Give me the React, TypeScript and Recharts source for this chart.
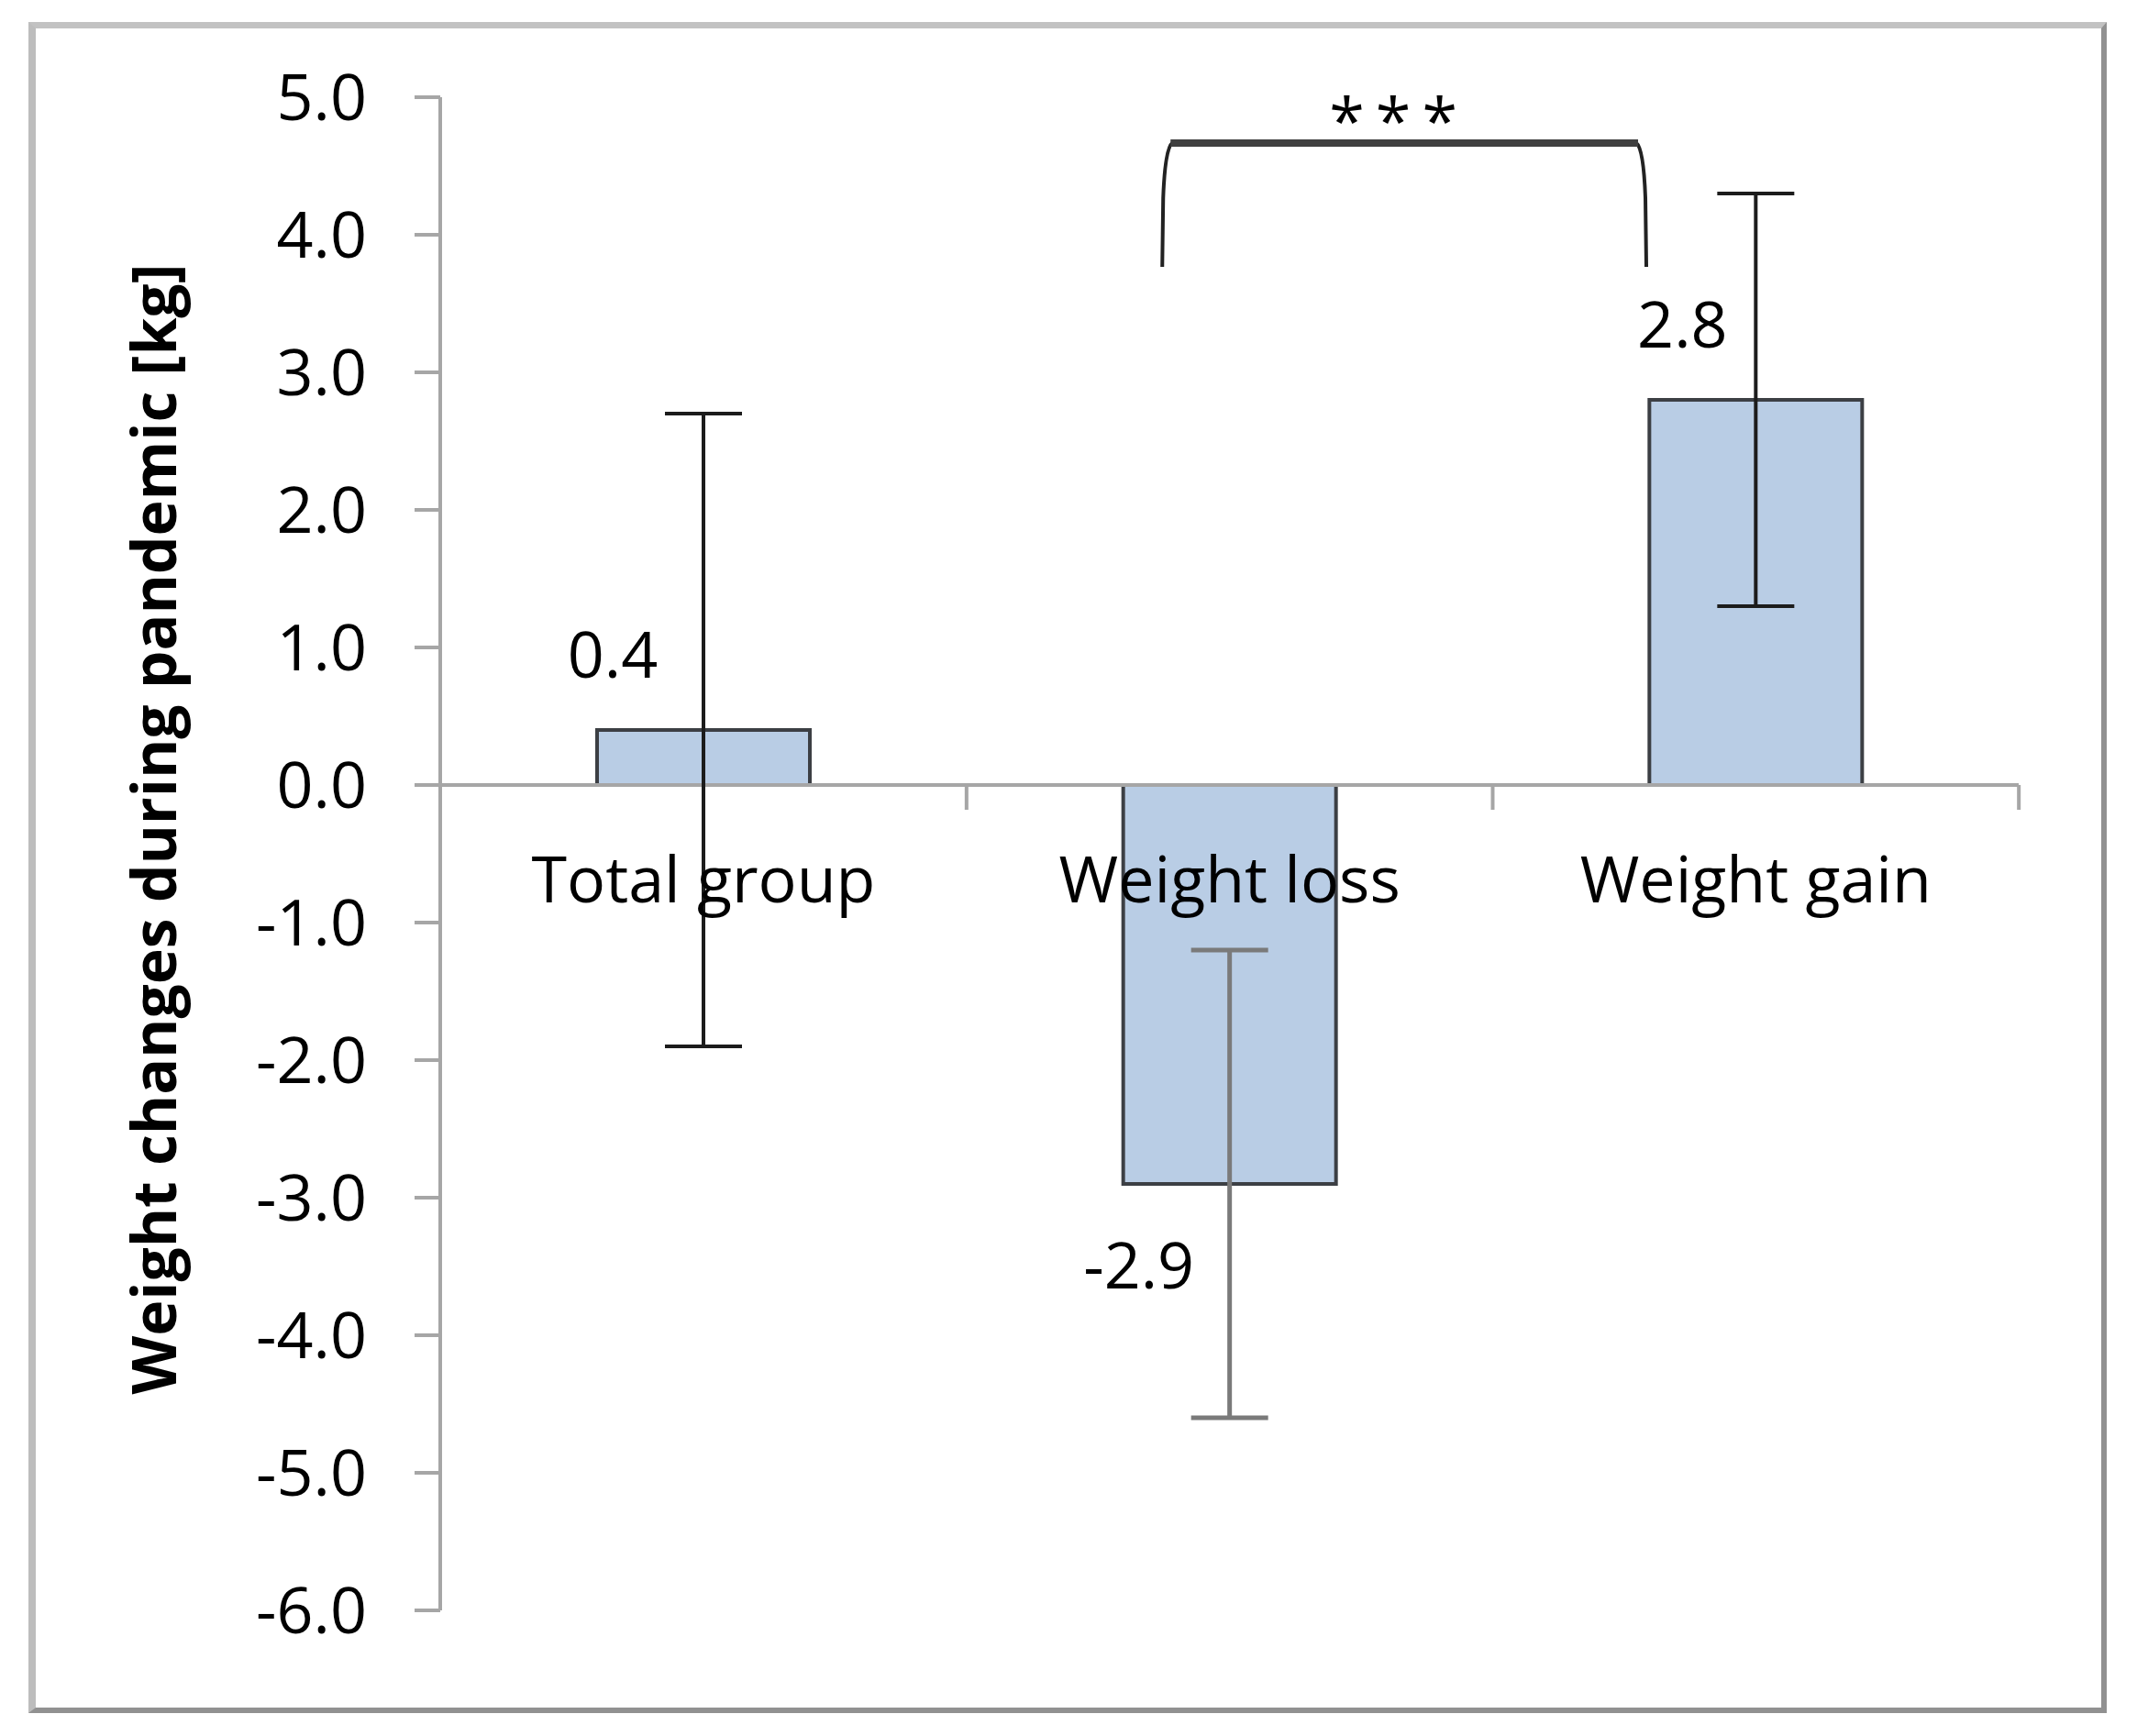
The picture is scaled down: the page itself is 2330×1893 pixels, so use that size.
import React from 'react';
import { BarChart, Bar, XAxis, YAxis, ErrorBar, LabelList, ReferenceLine } from 'recharts';

const categories = ['Total group', 'Weight loss', 'Weight gain'];
const meanValues = [0.4, -2.9, 2.8];
const sdDark = [2.3, undefined, 1.5];
const sdGray = [undefined, 1.7, undefined];
const yTicks = [5, 4, 3, 2, 1, 0, -1, -2, -3, -4, -5, -6];
const yDomain = [-6, 5];
const yTitle = 'Weight changes during pandemic [kg]';
const significance = '***';

// annotation positions in data units (category i spans i..i+1 on the band axis)
const bracketLeft = 1.372;
const bracketRight = 2.292;
const bracketTop = 4.667;
const bracketLegEnd = 3.767;
const tickDrop = 0.18;

const labelDx = [-99, -99, -80];

const FONT = "'Open Sans', sans-serif";
const AXIS_GRAY = '#a6a6a6';

const CHART_W = 2330;
const CHART_H = 1893;
const MARGIN = { top: 106, right: 129, bottom: 137, left: 0 };
const Y_AXIS_W = 480;
const BAND = (CHART_W - MARGIN.right - MARGIN.left - Y_AXIS_W) / categories.length;

const data = categories.map((name, i) => ({
  name,
  value: meanValues[i],
  errDark: sdDark[i],
  errGray: sdGray[i],
}));

const geom = (props: any) => {
  const { x, y, width, height, value } = props;
  const top = Math.min(y, y + height);
  const bottom = Math.max(y, y + height);
  const zero = value >= 0 ? bottom : top;
  const pxPerUnit = Math.abs(height) / Math.abs(value);
  const cx = x + width / 2;
  return { top, bottom, zero, pxPerUnit, cx };
};

const ValueLabel = (props: any) => {
  const { value, index } = props;
  const g = geom(props);
  const ty = value >= 0 ? g.top - 57 : g.bottom + 114;
  return (
    <text x={g.cx + labelDx[index]} y={ty} textAnchor="middle" fontSize={70} fontFamily={FONT} fill="#000">
      {Number(value).toFixed(1)}
    </text>
  );
};

const CategoryLabel = (props: any) => {
  const { index } = props;
  const g = geom(props);
  const tickX = g.cx + BAND / 2;
  return (
    <g>
      <line
        x1={tickX}
        x2={tickX}
        y1={g.zero}
        y2={g.zero + tickDrop * g.pxPerUnit}
        stroke={AXIS_GRAY}
        strokeWidth={4}
      />
      <text x={g.cx} y={g.zero + 128} textAnchor="middle" fontSize={70} fontFamily={FONT} fill="#000">
        {categories[index]}
      </text>
    </g>
  );
};

const Bracket = (props: any) => {
  const { index } = props;
  if (index !== 1) return null;
  const g = geom(props);
  const px = (u: number) => g.cx + (u - (index + 0.5)) * BAND;
  const py = (v: number) => g.zero - v * g.pxPerUnit;
  const L = px(bracketLeft);
  const R = px(bracketRight);
  const T = py(bracketTop);
  const B = py(bracketLegEnd);
  return (
    <g>
      <path
        d={`M ${L} ${B} L ${L + 1} ${T + 60} Q ${L + 3} ${T + 6} ${L + 11} ${T}`}
        fill="none"
        stroke="#222"
        strokeWidth={4}
      />
      <path
        d={`M ${R} ${B} L ${R - 1} ${T + 60} Q ${R - 3} ${T + 6} ${R - 11} ${T}`}
        fill="none"
        stroke="#222"
        strokeWidth={4}
      />
      <line x1={L + 9} x2={R - 9} y1={T} y2={T} stroke="#404040" strokeWidth={8} />
      <text
        x={(L + R) / 2 - 6}
        y={T + 1}
        textAnchor="middle"
        fontSize={70}
        letterSpacing={12}
        fontFamily={FONT}
        fill="#000"
      >
        {significance}
      </text>
    </g>
  );
};

const TitleLabel = (props: any) => {
  const vb = props.viewBox || {};
  const tx = vb.x + 192;
  const ty = vb.y + vb.height / 2 - 27;
  return (
    <text
      x={tx}
      y={ty}
      textAnchor="middle"
      fontSize={66}
      fontWeight="bold"
      fontFamily={FONT}
      fill="#000"
      transform={`rotate(-90, ${tx}, ${ty})`}
    >
      {yTitle}
    </text>
  );
};

export default function App() {
  return (
    <div style={{ position: 'absolute', left: 0, top: 0, width: CHART_W, height: CHART_H, background: '#fff' }}>
      <div
        style={{
          position: 'absolute',
          left: 31,
          top: 24,
          width: 2266,
          height: 1844,
          boxSizing: 'border-box',
          borderTop: '7px solid #c2c2c2',
          borderLeft: '8px solid #bdbdbd',
          borderRight: '6px solid #919191',
          borderBottom: '6px solid #919191',
        }}
      />
      <div style={{ position: 'absolute', left: 0, top: 0 }}>
        <BarChart width={CHART_W} height={CHART_H} data={data} margin={MARGIN}>
          <XAxis xAxisId="cat" dataKey="name" type="category" hide />
          <YAxis
            domain={yDomain}
            ticks={yTicks}
            interval={0}
            width={Y_AXIS_W}
            tickFormatter={(v: number) => v.toFixed(1)}
            tick={{ fill: '#000', fontSize: 70, fontFamily: FONT }}
            tickSize={28}
            tickMargin={52}
            axisLine={{ stroke: AXIS_GRAY, strokeWidth: 4 }}
            tickLine={{ stroke: AXIS_GRAY, strokeWidth: 4 }}
            allowDataOverflow
            label={<TitleLabel />}
          />
          <ReferenceLine xAxisId="cat" y={0} stroke={AXIS_GRAY} strokeWidth={4} />
          <Bar
            xAxisId="cat"
            dataKey="value"
            fill="#b9cde5"
            stroke="#3c3f44"
            strokeWidth={4}
            barSize={232}
            isAnimationActive={false}
          >
            <ErrorBar dataKey="errDark" width={42} stroke="#1c1c1c" strokeWidth={4} direction="y" />
            <ErrorBar dataKey="errGray" width={42} stroke="#7a7a7a" strokeWidth={5} direction="y" />
            <LabelList dataKey="value" content={<ValueLabel />} />
            <LabelList dataKey="value" content={<CategoryLabel />} />
            <LabelList dataKey="value" content={<Bracket />} />
          </Bar>
        </BarChart>
      </div>
    </div>
  );
}
